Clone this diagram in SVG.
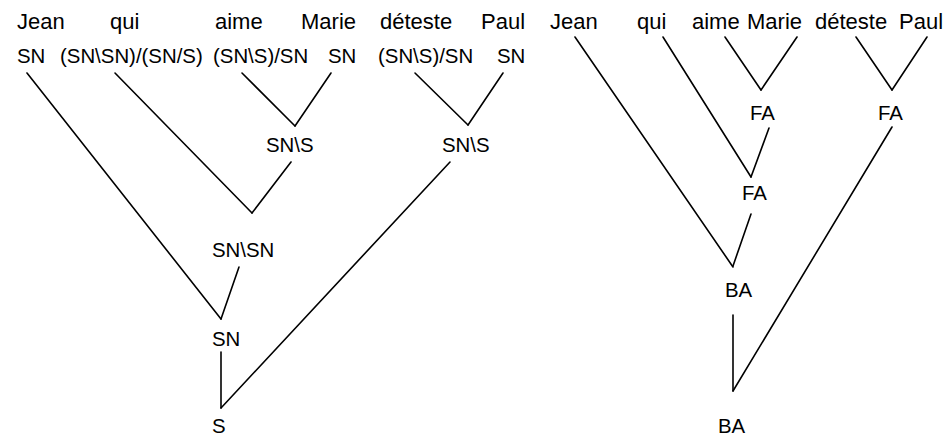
<svg xmlns="http://www.w3.org/2000/svg" width="945" height="436" viewBox="0 0 945 436">
<style>
text{font-family:"Liberation Sans",Arial,sans-serif;fill:#000}
.w{font-size:22px}
.c{font-size:20.4px}
#connectors line{stroke:#000;stroke-width:1.6;stroke-linecap:round}
</style>
<rect width="945" height="436" fill="#fff"/>
<g id="connectors">
<line x1="27" y1="73" x2="221" y2="319"/>
<line x1="115" y1="73" x2="252" y2="213"/>
<line x1="291" y1="162" x2="252" y2="213"/>
<line x1="242" y1="73" x2="295" y2="126"/>
<line x1="331" y1="73" x2="295" y2="126"/>
<line x1="415" y1="73" x2="468" y2="125"/>
<line x1="503" y1="73" x2="468" y2="125"/>
<line x1="450" y1="162" x2="221" y2="408"/>
<line x1="239" y1="267" x2="221" y2="319"/>
<line x1="221" y1="352" x2="221" y2="408"/>
<line x1="575" y1="37" x2="733" y2="267"/>
<line x1="663" y1="37" x2="751" y2="177"/>
<line x1="725" y1="37" x2="761" y2="90"/>
<line x1="797" y1="37" x2="761" y2="90"/>
<line x1="769" y1="128" x2="751" y2="177"/>
<line x1="856" y1="37" x2="892" y2="90"/>
<line x1="927" y1="37" x2="892" y2="90"/>
<line x1="892" y1="127" x2="733" y2="391"/>
<line x1="751" y1="214" x2="733" y2="266"/>
<line x1="733" y1="315" x2="733" y2="391"/>
</g>
<g id="l-jean"><text class="w" x="17" y="29">Jean</text><text class="c" x="17" y="63">SN</text></g>
<g id="l-qui"><text class="w" x="110" y="29">qui</text><text class="c" x="60" y="63">(SN\SN)/(SN/S)</text></g>
<g id="l-aime"><text class="w" x="215" y="29">aime</text><text class="c" x="213" y="63">(SN\S)/SN</text></g>
<g id="l-marie"><text class="w" x="301" y="29">Marie</text><text class="c" x="328" y="63">SN</text></g>
<g id="l-deteste"><text class="w" x="380" y="29">déteste</text><text class="c" x="378" y="63">(SN\S)/SN</text></g>
<g id="l-paul"><text class="w" x="481" y="29">Paul</text><text class="c" x="497" y="63">SN</text></g>
<g id="l-sns1"><text class="c" x="266" y="152">SN\S</text></g>
<g id="l-sns2"><text class="c" x="442" y="152">SN\S</text></g>
<g id="l-snsn"><text class="c" x="212" y="257">SN\SN</text></g>
<g id="l-sn"><text class="c" x="212" y="346">SN</text></g>
<g id="l-s"><text class="c" x="212" y="433">S</text></g>
<g id="r-jean"><text class="w" x="550" y="29">Jean</text></g>
<g id="r-qui"><text class="w" x="637" y="29">qui</text></g>
<g id="r-aime"><text class="w" x="692" y="29">aime</text></g>
<g id="r-marie"><text class="w" x="747" y="29">Marie</text></g>
<g id="r-deteste"><text class="w" x="815" y="29">déteste</text></g>
<g id="r-paul"><text class="w" x="899" y="29">Paul</text></g>
<g id="r-fa1"><text class="c" x="750" y="120">FA</text></g>
<g id="r-fa2"><text class="c" x="878" y="120">FA</text></g>
<g id="r-fa3"><text class="c" x="742" y="200">FA</text></g>
<g id="r-ba1"><text class="c" x="725" y="297">BA</text></g>
<g id="r-ba2"><text class="c" x="718" y="433">BA</text></g>
</svg>
